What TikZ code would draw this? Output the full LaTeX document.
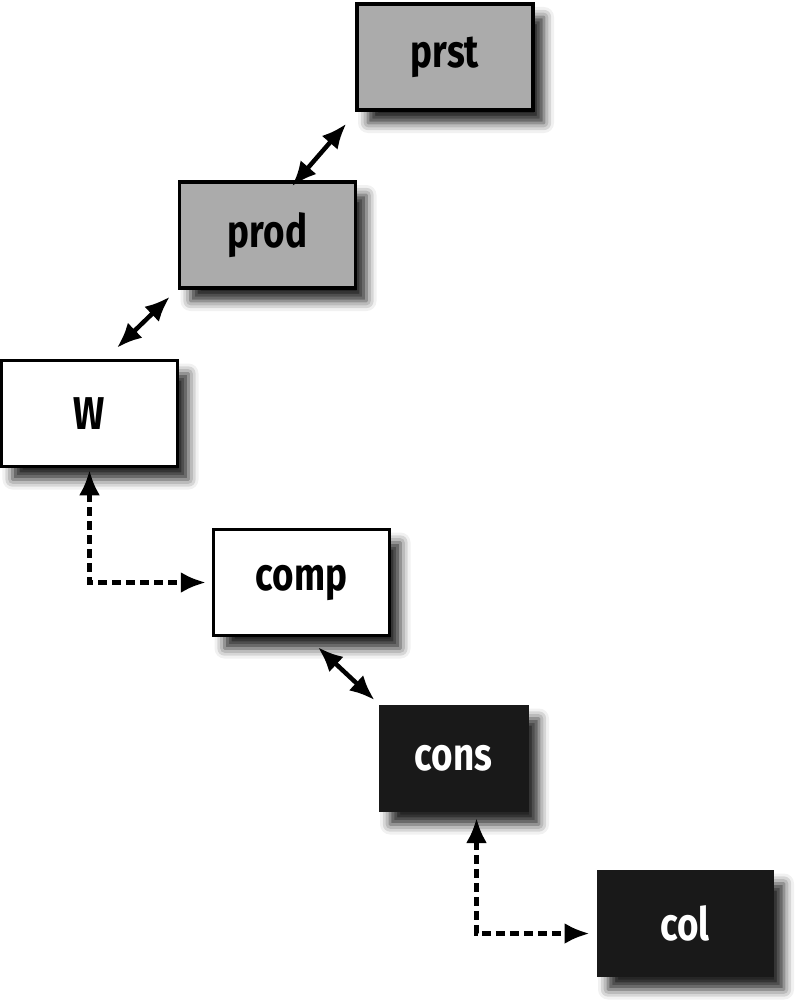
\documentclass[tikz,border=0pt]{standalone}
\usepackage{fontspec}
\setmainfont{Fira Sans}[FakeStretch=0.8]
\usepackage{tikz}
\usetikzlibrary{arrows.meta, shadows.blur, calc}

\definecolor{boxgrey}{rgb}{0.67,0.67,0.67}
\definecolor{boxdark}{rgb}{0.10,0.10,0.10}

\begin{document}
\begin{tikzpicture}[x=1pt,y=1pt,
  box/.style={line width=3.5pt, minimum width=176pt, minimum height=106pt,
    font=\bfseries\fontsize{46}{46}\selectfont,
    blur shadow={shadow xshift=11pt, shadow yshift=-13pt, shadow blur radius=10pt, shadow opacity=85}},
  greybox/.style={box, draw=black, fill=boxgrey},
  plainbox/.style={box, draw=black, fill=white},
  darkbox/.style={box, line width=1pt, draw=boxdark, fill=boxdark, text=white},
  link/.style={{Latex[length=25pt,width=21pt]}-{Latex[length=25pt,width=21pt]}, line width=4.5pt},
  dlink/.style={link, dash pattern=on 9pt off 5pt}]
\useasboundingbox (0,0) rectangle (797,-1000);
%%
  % Node: prst
  \node[greybox] (prst) at (445,-57) {prst};
  % Node: prod
  \node[greybox] (prod) at (267.5,-235) {prod};
  % Node: W
  \node[plainbox] (W) at (89.5,-413.5) {W};
  % Node: comp
  \node[plainbox] (comp) at (301.5,-582.5) {comp};
  % Node: cons
  \node[darkbox, minimum width=149pt] (cons) at (453.5,-758.5) {cons};
  % Node: col
  \node[darkbox] (col) at (685,-923.5) {col};
%%
  % Edge: prst -- prod
  \draw[link] ([shift={(-9,-12)}]prst.south west) -- ([shift={(24.5,-6)}]prod.north);
  % Edge: prod -- W
  \draw[link] ([shift={(-8,-7)}]prod.south west) -- ([shift={(27.5,11)}]W.north);
  % Edge: W -- comp
  \draw[dlink, shorten <=2pt, shorten >=6pt] (W.south) |- (comp.west);
  % Edge: comp -- cons
  \draw[link] ([shift={(16.5,-10)}]comp.south) -- ([shift={(-4,5)}]cons.north west);
  % Edge: cons -- col
  \draw[dlink, shorten <=6pt, shorten >=7pt] ([xshift=23pt]cons.south) |- ([yshift=-10pt]col.west);
%
\end{tikzpicture}
\end{document}
